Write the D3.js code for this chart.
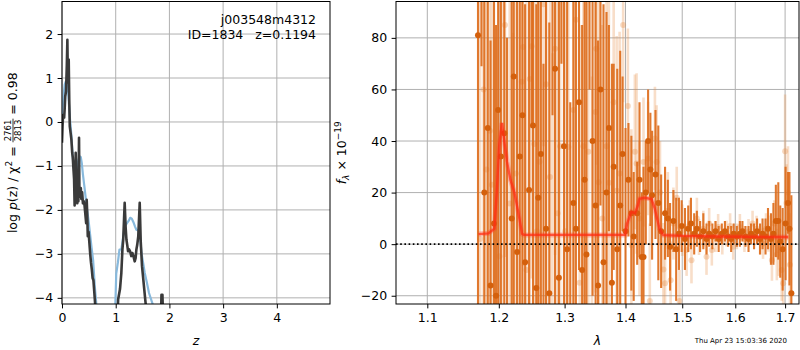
<!DOCTYPE html>
<html>
<head>
<meta charset="utf-8">
<script src="https://cdn.jsdelivr.net/npm/d3@7"></script>
<style>
  body { margin: 0; background: #fff; }
  svg text { font-family: "DejaVu Sans", sans-serif; }
</style>
</head>
<body>
<div id="plot"></div>
<script>
// ---- p(z) panel ----
var pzZ = [0.00, 0.01, 0.02, 0.04, 0.05, 0.06, 0.075, 0.09, 0.10, 0.11, 0.125, 0.135, 0.145, 0.16, 0.175, 0.19, 0.20, 0.215, 0.225, 0.235, 0.245, 0.255, 0.265, 0.275, 0.285, 0.295, 0.305, 0.317, 0.325, 0.335, 0.35, 0.36, 0.375, 0.39, 0.405, 0.42, 0.435, 0.45, 0.46, 0.47, 0.48, 0.495, 0.51, 0.525, 0.54, 0.555, 0.57, 0.585, 0.60, 0.615, 0.63, 0.65, 0.80, 0.95, 1.03, 1.045, 1.08, 1.105, 1.125, 1.14, 1.167, 1.185, 1.20, 1.215, 1.23, 1.25, 1.27, 1.29, 1.31, 1.33, 1.354, 1.37, 1.385, 1.40, 1.42, 1.447, 1.465, 1.49, 1.52, 1.55, 1.58, 1.65, 1.75, 1.84, 1.852, 1.87, 1.885, 1.95, 2.05];
var pzLog = [-0.47, -0.1, 0.16, 0.1, 0.3, 0.58, 0.7, 1.3, 1.87, 0.9, 1.42, 0.5, -0.1, -0.25, -0.4, -0.7, -0.8, -1.1, -1.3, -1.9, -1.5, -0.7, -1.2, -1.7, -1.85, -1.4, -1.8, -0.36, -1.7, -1.6, -1.5, -1.75, -1.6, -1.85, -1.8, -1.9, -2.1, -2.3, -1.77, -2.1, -2.6, -2.5, -2.75, -3.0, -3.2, -3.35, -3.55, -3.6, -3.85, -4.1, -4.6, -5.2, -7, -6, -4.6, -4.04, -3.8, -3.43, -2.9, -2.68, -1.84, -2.4, -2.68, -2.8, -2.94, -2.9, -2.95, -3.05, -2.98, -3.05, -3.17, -3.1, -2.9, -2.8, -2.6, -1.84, -2.7, -3.28, -3.66, -4.04, -4.4, -5.5, -6, -4.6, -3.93, -3.93, -4.6, -6, -7];

var priorZ = [0.00, 0.01, 0.03, 0.05, 0.07, 0.09, 0.11, 0.13, 0.15, 0.175, 0.20, 0.225, 0.25, 0.27, 0.29, 0.31, 0.33, 0.35, 0.37, 0.39, 0.42, 0.46, 0.49, 0.52, 0.55, 0.58, 0.61, 0.65, 0.70, 0.95, 0.99, 1.01, 1.04, 1.07, 1.106, 1.14, 1.17, 1.20, 1.24, 1.27, 1.30, 1.33, 1.36, 1.385, 1.42, 1.447, 1.48, 1.51, 1.54, 1.58, 1.62, 1.69, 1.75, 1.85];
var priorLog = [0.1, 0.3, 0.6, 0.85, 0.92, 0.92, 0.75, 0.4, 0.05, -0.3, -0.8, -1.05, -1.1, -1.05, -0.95, -0.85, -0.78, -0.8, -0.95, -1.2, -1.5, -1.93, -2.2, -2.52, -2.85, -3.15, -3.73, -4.3, -5, -5.5, -4.3, -3.45, -3.2, -2.9, -2.9, -2.6, -2.37, -2.32, -2.25, -2.18, -2.2, -2.28, -2.38, -2.45, -2.47, -2.52, -2.98, -3.2, -3.43, -3.65, -3.89, -4.15, -4.5, -5];

var zTicks = [0, 1, 2, 3, 4];
var logTicks = [-4, -3, -2, -1, 0, 1, 2];

// ---- spectrum panel ----
var darkLam = [1.170, 1.175, 1.179, 1.184, 1.188, 1.193, 1.196, 1.199, 1.203, 1.208, 1.212, 1.219, 1.222, 1.227, 1.231, 1.235, 1.239, 1.245, 1.249, 1.251, 1.256, 1.259, 1.263, 1.267, 1.271, 1.276, 1.281, 1.285, 1.291, 1.295, 1.299, 1.304, 1.309, 1.314, 1.318, 1.323, 1.328, 1.332, 1.335, 1.340, 1.345, 1.350, 1.354, 1.358, 1.363, 1.368, 1.372, 1.377, 1.380, 1.386, 1.391, 1.395, 1.400, 1.405, 1.410, 1.414, 1.420, 1.424, 1.428, 1.431, 1.435, 1.439, 1.443, 1.446, 1.452, 1.457, 1.462, 1.469, 1.474, 1.478, 1.484, 1.489, 1.494, 1.499, 1.505, 1.511, 1.516, 1.522, 1.527, 1.533, 1.539, 1.545, 1.550, 1.556, 1.562, 1.568, 1.574, 1.580, 1.586, 1.592, 1.597, 1.603, 1.609, 1.614, 1.620, 1.626, 1.631, 1.637, 1.643, 1.649, 1.654, 1.660, 1.665, 1.671, 1.676, 1.681, 1.686, 1.690, 1.695, 1.701, 1.706, 1.709, 1.713];
var darkFlux = [81, 102, 20, 45, -16, 8, -20, 52, 34, 43, -30, 10, 65, -3, 34, 50, -7, 21, 105, 46, -17, 18, 35, -40, 6, -19, 110, 68, -13, 120, 38, -2, -35, 16, 6, 55, -10, 25, -4, 95, 40, 15, -16, 60, -7, 20, 45, -15, 30, -2, 15, 35, 5, 25, 12, 3, 12, 25, -5, -5, 20, 40, 29, 19, 27, 16, 5, 12, 10, -1, 9, -2, 4, 7, 2, 6, 8, 4, 6, 3, 5, 2, 4, 3, 5, 2, 4, 5, 3, 2, 4, 3, 4, 5, 3, 2, 4, 3, 5, 2, 4, 3, 6, 2, 4, 9, 9, 1, -2, 8, 16, 6, -19];
var darkErr = [120, 33, 95, 110, 95, 130, 105, 95, 85, 100, 110, 90, 115, 120, 95, 105, 100, 115, 60, 95, 110, 110, 95, 110, 100, 105, 60, 100, 110, 50, 95, 105, 90, 100, 110, 65, 95, 90, 100, 35, 60, 85, 95, 45, 100, 70, 40, 85, 40, 70, 60, 30, 40, 22, 30, 25, 20, 30, 25, 35, 20, 20, 22, 25, 25, 30, 22, 18, 15, 17, 12, 20, 14, 10, 12, 9, 10, 8, 7, 6, 7, 6, 5, 5, 4, 5, 4, 4, 4, 5, 4, 4, 5, 4, 4, 5, 4, 5, 5, 6, 6, 7, 8, 10, 12, 14, 15, 14, 16, 22, 12, 22, 38];

var lightLam = [1.173, 1.178, 1.182, 1.187, 1.190, 1.195, 1.201, 1.205, 1.209, 1.216, 1.221, 1.225, 1.234, 1.236, 1.241, 1.246, 1.249, 1.253, 1.257, 1.261, 1.267, 1.271, 1.277, 1.281, 1.285, 1.289, 1.293, 1.301, 1.306, 1.314, 1.318, 1.324, 1.330, 1.338, 1.344, 1.350, 1.351, 1.355, 1.361, 1.368, 1.372, 1.380, 1.385, 1.390, 1.396, 1.404, 1.410, 1.416, 1.419, 1.424, 1.431, 1.439, 1.442, 1.451, 1.454, 1.460, 1.466, 1.469, 1.474, 1.479, 1.484, 1.490, 1.495, 1.500, 1.508, 1.514, 1.517, 1.527, 1.531, 1.539, 1.545, 1.550, 1.555, 1.562, 1.567, 1.575, 1.583, 1.590, 1.596, 1.603, 1.609, 1.618, 1.626, 1.634, 1.642, 1.649, 1.655, 1.661, 1.666, 1.673, 1.678, 1.683, 1.687, 1.693, 1.696, 1.700, 1.703, 1.706, 1.710];
var lightFlux = [2, 60, 29, 44, 23, -30, -4.7, 43.5, 85, 15.8, -28, 27.4, 63, 76.5, -10, 64, 76.7, 38.8, 5, 32, 93, 62, 26, -26, 75.8, 12, 38, 5, 37.7, 52, 87, -15, 38, 35.8, -25, 51.3, 75.8, 24, 10, 38, 23.8, 55, 20.7, 27.4, 85, 53.6, -0.4, 35.8, 31.3, 10, 31.9, 33.2, -22, 41, 31.9, 20, -9.8, -15.2, 13, -14, 8, 18, -22, 5.4, -2.3, 8, -6.2, 10, 2.8, 6, -4.9, 8, -2.3, 3, 6.7, 1, 4.1, 7, -1, 3, 6.7, 2, 4.8, 8, 6, 1, 0.3, 6, 4.1, -6.2, 8, -4, -2.3, -10, -15.2, 36, 16, 20, -8];
var lightErr = [110, 100, 95, 105, 100, 110, 100, 95, 90, 100, 110, 105, 90, 85, 110, 95, 90, 100, 110, 105, 55, 90, 100, 100, 80, 100, 95, 100, 95, 90, 70, 100, 85, 85, 90, 70, 45, 80, 75, 70, 75, 50, 60, 55, 30, 30, 45, 30, 35, 30, 25, 22, 30, 20, 22, 20, 18, 18, 15, 15, 14, 12, 12, 10, 10, 9, 9, 8, 7, 7, 7, 6, 6, 6, 5, 5, 5, 5, 5, 5, 5, 5, 5, 5, 5, 5, 6, 6, 7, 8, 9, 10, 10, 12, 14, 22, 15, 18, 20];

var modelLam = [1.1707, 1.185, 1.1935, 1.197, 1.2005, 1.2045, 1.208, 1.212, 1.217, 1.223, 1.229, 1.2345, 1.237, 1.300, 1.3994, 1.4027, 1.410, 1.416, 1.4212, 1.424, 1.433, 1.445, 1.4505, 1.459, 1.4658, 1.500, 1.558, 1.620, 1.660, 1.7066];
var modelFlux = [3.9, 4.2, 6, 20, 38, 47, 40, 32, 25, 20, 12, 4, 3.6, 3.6, 3.6, 8, 12.5, 12, 15, 17.6, 18, 17.5, 14, 6, 3.5, 3.2, 3.0, 2.9, 2.8, 2.8];

var lamTicks = [1.1, 1.2, 1.3, 1.4, 1.5, 1.6, 1.7];
var fluxTicks = [-20, 0, 20, 40, 60, 80];

var W = 800, H = 350;
var svg = d3.select("#plot").append("svg").attr("width", W).attr("height", H);

var left = { x0: 62, x1: 330, y0: 1.5, y1: 304 };
var right = { x0: 396, x1: 799, y0: 1.5, y1: 304 };

var zScale = d3.scaleLinear().domain([0, 4.99]).range([left.x0, left.x1]);
var pScale = d3.scaleLinear().domain([-4.14, 2.74]).range([left.y1, left.y0]);
var lamScale = d3.scaleLog().domain([1.0589, 1.729]).range([right.x0, right.x1]);
var fScale = d3.scaleLinear().domain([-23.2, 94.1]).range([right.y1, right.y0]);

var defs = svg.append("defs");
defs.append("clipPath").attr("id", "clipL").append("rect")
  .attr("x", left.x0).attr("y", left.y0).attr("width", left.x1 - left.x0).attr("height", left.y1 - left.y0);
defs.append("clipPath").attr("id", "clipR").append("rect")
  .attr("x", right.x0).attr("y", right.y0).attr("width", right.x1 - right.x0).attr("height", right.y1 - right.y0);

var TICK = 4.4, PAD = 4.4, FS = 12.5;

function grid(g, xs, xv, ys, yv, box) {
  g.selectAll("line.gx").data(xv).enter().append("line").attr("class", "gx")
    .attr("x1", function(d) { return xs(d); }).attr("x2", function(d) { return xs(d); })
    .attr("y1", box.y0).attr("y2", box.y1)
    .attr("stroke", "#b0b0b0").attr("stroke-width", 1);
  g.selectAll("line.gy").data(yv).enter().append("line").attr("class", "gy")
    .attr("y1", function(d) { return ys(d); }).attr("y2", function(d) { return ys(d); })
    .attr("x1", box.x0).attr("x2", box.x1)
    .attr("stroke", "#b0b0b0").attr("stroke-width", 1);
}

function axes(xs, xv, xfmt, ys, yv, yfmt, box) {
  var gx = svg.append("g").attr("transform", "translate(0," + box.y1 + ")")
    .call(d3.axisBottom(xs).tickValues(xv).tickFormat(xfmt).tickSize(TICK).tickPadding(PAD).tickSizeOuter(0));
  var gy = svg.append("g").attr("transform", "translate(" + box.x0 + ",0)")
    .call(d3.axisLeft(ys).tickValues(yv).tickFormat(yfmt).tickSize(TICK).tickPadding(PAD).tickSizeOuter(0));
  [gx, gy].forEach(function(g) {
    g.select(".domain").remove();
    g.selectAll("text").attr("font-size", FS).attr("fill", "#000").attr("font-family", "DejaVu Sans");
    g.selectAll("line").attr("stroke", "#000").attr("stroke-width", 1);
  });
  svg.append("rect").attr("x", box.x0).attr("y", box.y0)
    .attr("width", box.x1 - box.x0).attr("height", box.y1 - box.y0)
    .attr("fill", "none").attr("stroke", "#000").attr("stroke-width", 1);
}

// ---- left panel ----
var gL = svg.append("g");
grid(gL, zScale, zTicks, pScale, logTicks, left);
var plotL = svg.append("g").attr("clip-path", "url(#clipL)");
var line = d3.line().x(function(d) { return zScale(d[0]); }).y(function(d) { return pScale(d[1]); });
plotL.append("path").datum(d3.zip(priorZ, priorLog)).attr("d", line)
  .attr("fill", "none").attr("stroke", "#88b9dc").attr("stroke-width", 2.2).attr("stroke-linejoin", "round");
plotL.append("path").datum(d3.zip(pzZ, pzLog)).attr("d", line)
  .attr("fill", "none").attr("stroke", "#3a3a3a").attr("stroke-width", 2.6).attr("stroke-linejoin", "round");
axes(zScale, zTicks, d3.format("d"), pScale, logTicks, d3.format("d"), left);

svg.append("text").attr("x", 316).attr("y", 24).attr("text-anchor", "end").attr("font-size", FS)
  .text("j003548m4312");
svg.append("text").attr("x", 316).attr("y", 39).attr("text-anchor", "end").attr("font-size", FS)
  .style("white-space", "pre").text("ID=1834   z=0.1194");

// ---- right panel ----
var gR = svg.append("g");
grid(gR, lamScale, lamTicks, fScale, fluxTicks, right);
var plotR = svg.append("g").attr("clip-path", "url(#clipR)");

function errSeries(lam, flux, err, barCol, barOp, barW, dotCol, dotOp) {
  var rows = d3.zip(lam, flux, err);
  var g = plotR.append("g");
  g.selectAll("line").data(rows).enter().append("line")
    .attr("x1", function(d) { return lamScale(d[0]); }).attr("x2", function(d) { return lamScale(d[0]); })
    .attr("y1", function(d) { return fScale(d[1] - d[2]); }).attr("y2", function(d) { return fScale(d[1] + d[2]); })
    .attr("stroke", barCol).attr("stroke-opacity", barOp).attr("stroke-width", barW);
  g.selectAll("circle").data(rows).enter().append("circle")
    .attr("cx", function(d) { return lamScale(d[0]); }).attr("cy", function(d) { return fScale(d[1]); })
    .attr("r", 3).attr("fill", dotCol).attr("fill-opacity", dotOp);
}
errSeries(lightLam, lightFlux, lightErr, "#e8914c", 0.3, 2.6, "#e8914c", 0.35);
errSeries(darkLam, darkFlux, darkErr, "#dd6c1c", 0.92, 2.1, "#d4600c", 1);

var mline = d3.line().x(function(d) { return lamScale(d[0]); }).y(function(d) { return fScale(d[1]); });
plotR.append("path").datum(d3.zip(modelLam, modelFlux)).attr("d", mline)
  .attr("fill", "none").attr("stroke", "#ff3a28").attr("stroke-opacity", 0.3).attr("stroke-width", 5);
plotR.append("path").datum(d3.zip(modelLam, modelFlux)).attr("d", mline)
  .attr("fill", "none").attr("stroke", "#ff2a10").attr("stroke-opacity", 0.7).attr("stroke-width", 2.4);

plotR.append("line").attr("x1", right.x0).attr("x2", right.x1)
  .attr("y1", fScale(0)).attr("y2", fScale(0))
  .attr("stroke", "#000").attr("stroke-width", 1.6).attr("stroke-dasharray", "1.6,2.6");

axes(lamScale, lamTicks, d3.format(".1f"), fScale, fluxTicks, d3.format("d"), right);

// ---- labels ----
svg.append("text").attr("x", (left.x0 + left.x1) / 2).attr("y", 345).attr("text-anchor", "middle")
  .attr("font-size", FS).attr("font-style", "italic").text("z");
svg.append("text").attr("x", (right.x0 + right.x1) / 2).attr("y", 345).attr("text-anchor", "middle")
  .attr("font-size", FS).attr("font-style", "italic").text("λ");

// left y label with stacked fraction
var yl = svg.append("g");
var t1 = yl.append("text").attr("font-size", FS).attr("x", 0).attr("y", 0);
t1.append("tspan").text("log ");
t1.append("tspan").attr("font-style", "italic").text("p");
t1.append("tspan").text("(z) / χ");
t1.append("tspan").attr("font-size", 9).attr("dy", -5).text("2");
t1.append("tspan").attr("dy", 5).style("white-space", "pre").text(" = ");
var w1 = t1.node().getComputedTextLength();
var num = yl.append("text").attr("font-size", 8.5).attr("text-anchor", "middle").attr("y", -6).text("2761");
var den = yl.append("text").attr("font-size", 8.5).attr("text-anchor", "middle").attr("y", 4).text("2813");
var wf = Math.max(num.node().getComputedTextLength(), den.node().getComputedTextLength()) + 2;
num.attr("x", w1 + wf / 2);
den.attr("x", w1 + wf / 2);
yl.append("line").attr("x1", w1).attr("x2", w1 + wf).attr("y1", -4).attr("y2", -4)
  .attr("stroke", "#000").attr("stroke-width", 0.8);
var t2 = yl.append("text").attr("font-size", FS).attr("x", w1 + wf).attr("y", 0)
  .style("white-space", "pre").text(" = 0.98");
var wtot = w1 + wf + t2.node().getComputedTextLength();
yl.attr("transform", "translate(17," + ((left.y0 + left.y1) / 2 + wtot / 2) + ") rotate(-90)");

// right y label
var yr = svg.append("g");
var t3 = yr.append("text").attr("font-size", FS);
t3.append("tspan").attr("font-style", "italic").text("f");
t3.append("tspan").attr("font-style", "italic").attr("font-size", 9).attr("dy", 3).text("λ");
t3.append("tspan").attr("dy", -3).style("white-space", "pre").text(" × 10");
t3.append("tspan").attr("font-size", 9).attr("dy", -5).text("−19");
var w3 = t3.node().getComputedTextLength();
yr.attr("transform", "translate(346," + ((right.y0 + right.y1) / 2 + w3 / 2) + ") rotate(-90)");

svg.append("text").attr("x", 787).attr("y", 343).attr("text-anchor", "end")
  .attr("font-size", 7).text("Thu Apr 23 15:03:36 2020");
</script>
</body>
</html>
